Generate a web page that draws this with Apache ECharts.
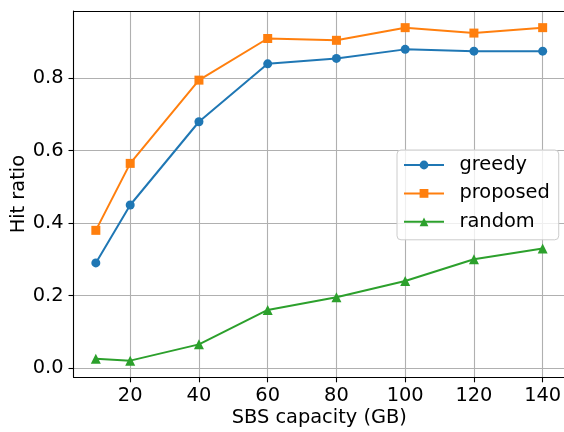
<!DOCTYPE html>
<html>
<head>
<meta charset="utf-8">
<script src="https://cdn.jsdelivr.net/npm/echarts@6/dist/echarts.min.js"></script>
<style>
  html, body { margin: 0; padding: 0; background: #ffffff; }
  #chart { width: 564px; height: 432px; }
</style>
</head>
<body>
<div id="chart"></div>
<script>
// SBS capacity (GB) on the x axis
const capacities = [10, 20, 40, 60, 80, 100, 120, 140];
// Hit ratio per caching strategy
const greedy   = [0.29, 0.45, 0.68, 0.84, 0.855, 0.88, 0.875, 0.875];
const proposed = [0.38, 0.565, 0.795, 0.91, 0.905, 0.94, 0.925, 0.94];
const random   = [0.025, 0.02, 0.065, 0.16, 0.195, 0.24, 0.30, 0.33];
// Tick positions
const xTicks = [20, 40, 60, 80, 100, 120, 140];
const yTicks = [0.0, 0.2, 0.4, 0.6, 0.8];

const FONT = 'DejaVu Sans';
const FS = 19.4;
const X_MIN = 3.5, X_MAX = 146.5;

function pairs(ys) {
  return capacities.map((x, i) => [x, ys[i]]);
}

function lineSeries(name, ys, color, symbol, size) {
  return {
    name: name,
    type: 'line',
    xAxisIndex: 0,
    yAxisIndex: 0,
    data: pairs(ys),
    color: color,
    symbol: symbol,
    symbolSize: size,
    showSymbol: true,
    lineStyle: { color: color, width: 2 },
    itemStyle: { color: color },
    emphasis: { disabled: true },
    animation: false,
    clip: false
  };
}

const chart = echarts.init(document.getElementById('chart'), null, { renderer: 'canvas' });

chart.setOption({
  animation: false,
  backgroundColor: '#ffffff',
  textStyle: { fontFamily: FONT },
  grid: {
    left: 73.5,
    top: 11,
    width: 491.5,
    height: 366.3,
    containLabel: false,
    outerBoundsMode: 'none',
    show: false
  },
  xAxis: [{
    type: 'value',
    position: 'bottom',
    min: X_MIN,
    max: X_MAX,
    name: 'SBS capacity (GB)',
    nameLocation: 'middle',
    nameGap: 31,
    nameMoveOverlap: false,
    nameTextStyle: { fontFamily: FONT, fontSize: FS, color: '#000000' },
    axisLine: { show: true, onZero: false, lineStyle: { color: '#000000', width: 1.1 } },
    axisTick: { show: true, inside: false, length: 5, customValues: xTicks,
                lineStyle: { color: '#000000', width: 1.1 } },
    axisLabel: { show: true, margin: 9, customValues: xTicks,
                 fontFamily: FONT, fontSize: FS, color: '#000000' },
    splitLine: { show: true, lineStyle: { color: '#b0b0b0', width: 1.1 } }
  }, {
    // top frame edge
    type: 'value',
    position: 'top',
    min: X_MIN,
    max: X_MAX,
    axisLine: { show: true, onZero: false, lineStyle: { color: '#000000', width: 1.1 } },
    axisTick: { show: false },
    axisLabel: { show: false },
    splitLine: { show: false }
  }],
  yAxis: {
    type: 'value',
    min: -0.026,
    max: 0.986,
    name: 'Hit ratio',
    nameLocation: 'middle',
    nameGap: 45,
    nameMoveOverlap: false,
    nameTextStyle: { fontFamily: FONT, fontSize: FS, color: '#000000' },
    axisLine: { show: true, onZero: false, lineStyle: { color: '#000000', width: 1.1 } },
    axisTick: { show: true, inside: false, length: 5, customValues: yTicks,
                lineStyle: { color: '#000000', width: 1.1 } },
    axisLabel: { show: true, margin: 10, customValues: yTicks,
                 formatter: v => Number(v).toFixed(1),
                 fontFamily: FONT, fontSize: FS, color: '#000000' },
    splitLine: { show: true, lineStyle: { color: '#b0b0b0', width: 1.1 } }
  },
  legend: {
    orient: 'vertical',
    left: 397,
    top: 150,
    padding: [5, 9, 8, 6],
    itemWidth: 40,
    itemHeight: 11,
    itemGap: 8.4,
    backgroundColor: 'rgba(255,255,255,0.8)',
    borderColor: '#cccccc',
    borderWidth: 1,
    borderRadius: 4,
    textStyle: { fontFamily: FONT, fontSize: FS, color: '#000000',
                 lineHeight: 20, padding: [0, 0, 0, 10.5] },
    data: ['greedy', 'proposed', 'random']
  },
  series: [
    lineSeries('greedy', greedy, '#1f77b4', 'circle', 9),
    lineSeries('proposed', proposed, '#ff7f0e', 'rect', 9),
    lineSeries('random', random, '#2ca02c', 'triangle', 10)
  ]
});
</script>
</body>
</html>
